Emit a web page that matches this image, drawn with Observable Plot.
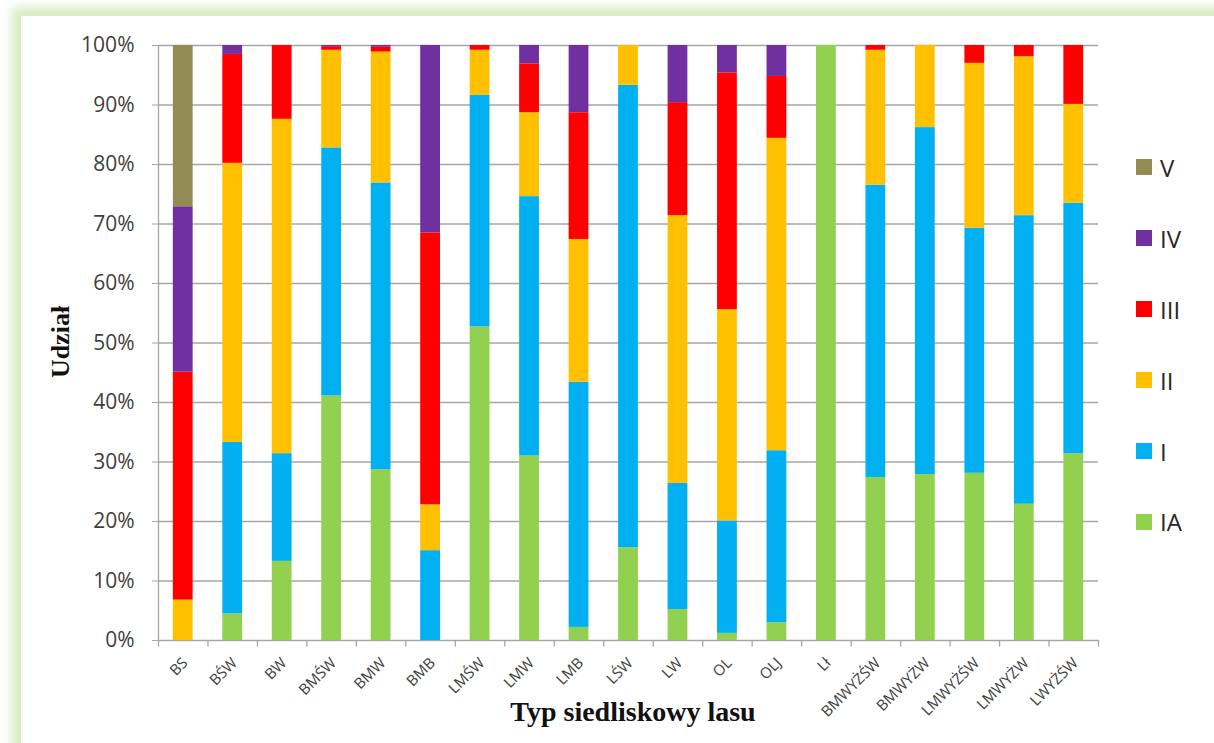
<!DOCTYPE html>
<html>
<head>
<meta charset="utf-8">
<script src="https://cdn.jsdelivr.net/npm/d3@7"></script>
<script src="https://cdn.jsdelivr.net/npm/@observablehq/plot@0.6"></script>
<style>
  html, body { margin: 0; padding: 0; background: #ffffff; }
  body { width: 1214px; height: 743px; position: relative; overflow: hidden; }
  #frame {
    position: absolute; left: 21px; top: 16px; width: 1230px; height: 760px;
    background: #ffffff;
    box-shadow: -3px -3px 10px 6px rgba(180, 222, 140, 0.55);
  }
  #chart { position: absolute; left: 0; top: 0; }
  .ytitle {
    position: absolute; left: 61px; top: 342px;
    transform: translate(-50%, -50%) rotate(-90deg);
    font-family: "Liberation Serif", serif; font-weight: bold; font-size: 26px; color: #111;
    white-space: nowrap;
  }
  .xtitle {
    position: absolute; left: 633px; top: 712px;
    transform: translate(-50%, -50%);
    font-family: "Liberation Serif", serif; font-weight: bold; font-size: 28px; color: #111;
    white-space: nowrap;
  }
  #legend {
    position: absolute; left: 1136px; top: 132px;
    font-family: "Open Sans", sans-serif; font-size: 24px; color: #262626;
  }
  #legend .item { height: 70.9px; display: flex; align-items: center; }
  #legend .sw { width: 16px; height: 16px; margin-right: 8px; }
</style>
</head>
<body>
<div id="frame"></div>
<div id="chart"></div>
<div class="ytitle">Udział</div>
<div class="xtitle">Typ siedliskowy lasu</div>
<div id="legend"></div>
<script>
const categories = ["BS","BŚW","BW","BMŚW","BMW","BMB","LMŚW","LMW","LMB","LŚW","LW","OL","OLJ","Lł","BMWYŻŚW","BMWYŻW","LMWYŻŚW","LMWYŻW","LWYŻŚW"];
const series = ["IA","I","II","III","IV","V"];
const colors = ["#92d050","#00b0f0","#ffc000","#ff0000","#7030a0","#948a54"];

const IA  = [0, 4.5, 13.3, 41.1, 28.7, 0, 52.7, 31.0, 2.2, 15.6, 5.2, 1.2, 3.0, 100, 27.4, 27.9, 28.1, 22.9, 31.4];
const I   = [0, 28.8, 18.1, 41.7, 48.2, 15.1, 38.9, 43.6, 41.2, 77.7, 21.2, 18.9, 28.9, 0, 49.1, 58.3, 41.2, 48.5, 42.1];
const II  = [6.8, 46.9, 56.2, 16.4, 22.0, 7.7, 7.6, 14.1, 24.0, 6.7, 45.0, 35.5, 52.5, 0, 22.7, 13.8, 27.7, 26.7, 16.6];
const III = [38.3, 18.3, 12.4, 0.6, 0.8, 45.7, 0.8, 8.2, 21.3, 0, 19.0, 39.8, 10.4, 0, 0.8, 0, 3.0, 1.9, 9.9];
const IV  = [27.8, 1.5, 0, 0.2, 0.3, 31.5, 0, 3.1, 11.3, 0, 9.6, 4.6, 5.2, 0, 0, 0, 0, 0, 0];
const V   = [27.1, 0, 0, 0, 0, 0, 0, 0, 0, 0, 0, 0, 0, 0, 0, 0, 0, 0, 0];

const yTicks = [0, 10, 20, 30, 40, 50, 60, 70, 80, 90, 100];

const seriesValues = [IA, I, II, III, IV, V];
const data = series.flatMap((s, si) =>
  categories.map((c, ci) => ({cat: c, series: s, value: seriesValues[si][ci]}))
);

const W = 1214, H = 743, mL = 158, mR = 116, mT = 45, mB = 103;
const step = (W - mL - mR) / categories.length;
const boundaries = categories.map((c, i) => ({cat: c, top: i === 0 ? 100 : 0}));

const chart = Plot.plot({
  width: W, height: H,
  marginLeft: mL, marginRight: mR, marginTop: mT, marginBottom: mB,
  style: {fontFamily: "Open Sans, sans-serif", background: "transparent", overflow: "visible"},
  x: {domain: categories, paddingInner: 0.6, paddingOuter: 0.3, round: false, label: null},
  y: {domain: [0, 100], label: null},
  color: {domain: series, range: colors},
  marks: [
    Plot.ruleY(yTicks, {y: d => d, stroke: "#a6a6a6", strokeWidth: 1.3}),
    Plot.barY(data, {x: "cat", y: "value", fill: "series", z: "series"}),
    Plot.ruleX(boundaries, {x: "cat", y1: "top", y2: -1.1, dx: -step / 2, stroke: "#a6a6a6", strokeWidth: 1.3}),
    Plot.ruleX([categories[categories.length - 1]], {x: d => d, y1: 0, y2: -1.1, dx: step / 2, stroke: "#a6a6a6", strokeWidth: 1.3}),
    Plot.axisY({ticks: yTicks, tickFormat: d => d + "%", tickSize: 6, tickPadding: 18, fontSize: 21, stroke: "#a6a6a6", fill: "#404040", label: null}),
    Plot.axisX({tickSize: 0, tickRotate: -45, tickPadding: 20, dx: 2, fontSize: 15, fill: "#404040", label: null})
  ]
});
document.getElementById("chart").appendChild(chart);

const legend = document.getElementById("legend");
series.slice().reverse().forEach((s) => {
  const item = document.createElement("div");
  item.className = "item";
  const sw = document.createElement("span");
  sw.className = "sw";
  sw.style.background = colors[series.indexOf(s)];
  const t = document.createElement("span");
  t.textContent = s;
  item.appendChild(sw); item.appendChild(t);
  legend.appendChild(item);
});
</script>
</body>
</html>
